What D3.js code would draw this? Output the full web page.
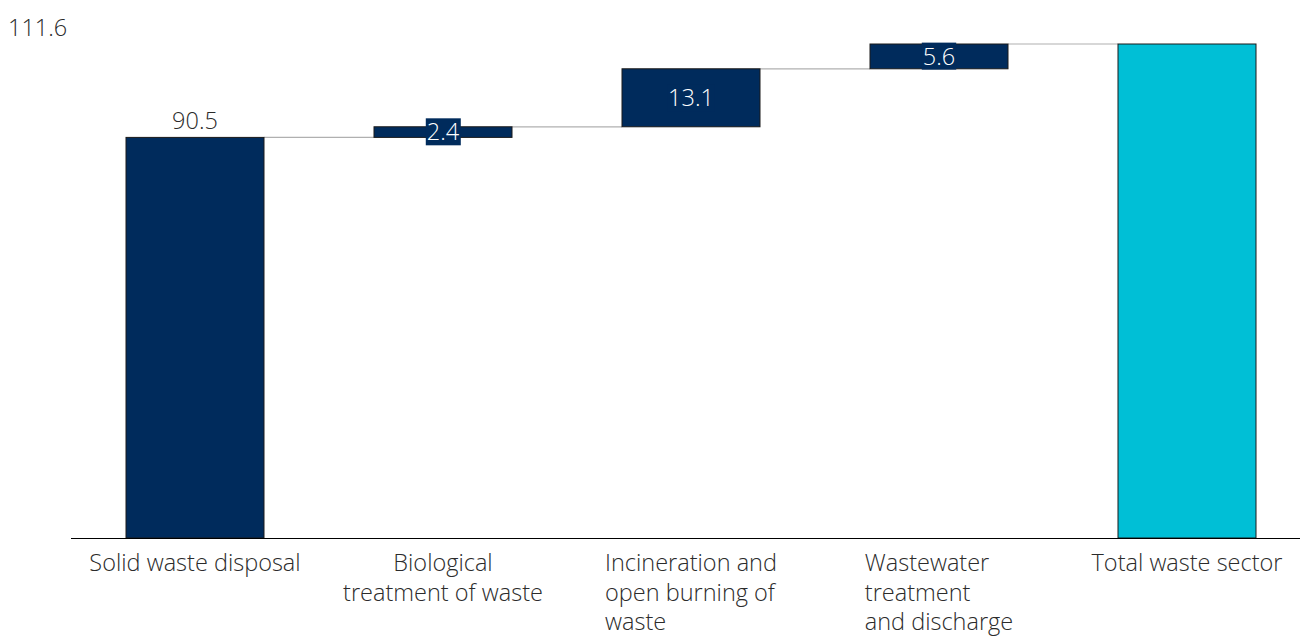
<!DOCTYPE html>
<html>
<head>
<meta charset="utf-8">
<script src="https://cdn.jsdelivr.net/npm/d3@7"></script>
<style>
  html, body { margin: 0; padding: 0; background: #fff; }
  svg text { font-family: "Open Sans", "Lato", sans-serif; font-weight: 300; fill: #2b2b2b; }
</style>
</head>
<body>
<svg id="chart" width="1300" height="641"></svg>
<script>
// Waste sector emissions, contribution by sub-sector
const categories = [
  "Solid waste disposal",
  "Biological treatment of waste",
  "Incineration and open burning of waste",
  "Wastewater treatment and discharge",
  "Total waste sector"
];
const categoryLines = [
  ["Solid waste disposal"],
  ["Biological", "treatment of waste"],
  ["Incineration and", "open burning of", "waste"],
  ["Wastewater", "treatment", "and discharge"],
  ["Total waste sector"]
];
const values = [90.5, 2.4, 13.1, 5.6, 111.6];
const isTotal = [false, false, false, false, true];
const valueLabels = ["90.5", "2.4", "13.1", "5.6", "111.6"];

const svg = d3.select("#chart");
const W = 1300;
const baseY = 538, topY = 44;
const fs = 23.5;

// running totals for the waterfall steps
let run = 0;
const steps = categories.map((c, i) => {
  let y0, y1;
  if (isTotal[i] || i === 0) { y0 = 0; y1 = values[i]; run = values[i]; }
  else { y0 = run; y1 = run + values[i]; run = y1; }
  return { cat: c, i, y0, y1, v: values[i], total: isTotal[i], label: valueLabels[i] };
});

const x = d3.scaleBand().domain(categories).range([71, 1311])
  .paddingInner(110 / 248).paddingOuter(55 / 248);
const y = d3.scaleLinear().domain([0, d3.max(steps, d => d.y1)]).range([baseY, topY]);

const navy = "#002B5C", cyan = "#00BFD6";

// connectors between consecutive bars
const conn = svg.append("g");
steps.slice(0, -1).forEach((d, i) => {
  const nx = steps[i + 1];
  conn.append("line")
    .attr("x1", x(d.cat) + x.bandwidth())
    .attr("x2", x(nx.cat))
    .attr("y1", y(d.y1)).attr("y2", y(d.y1))
    .attr("stroke", "#b0b0b0").attr("stroke-width", 1.2);
});

// bars
svg.append("g").selectAll("rect").data(steps).join("rect")
  .attr("x", d => x(d.cat))
  .attr("width", x.bandwidth())
  .attr("y", d => y(Math.max(d.y0, d.y1)))
  .attr("height", d => Math.abs(y(d.y0) - y(d.y1)))
  .attr("fill", d => d.total ? cyan : navy)
  .attr("stroke", "#1a1a1a").attr("stroke-width", 1);

// baseline
svg.append("line").attr("x1", 71).attr("x2", W).attr("y1", baseY + 0.5).attr("y2", baseY + 0.5)
  .attr("stroke", "#000").attr("stroke-width", 1.2);

// value labels
const vl = svg.append("g");
steps.forEach(d => {
  const cx = x(d.cat) + x.bandwidth() / 2;
  if (d.total) {
    vl.append("text").attr("x", 8).attr("y", 36).attr("font-size", fs).text(d.label);
  } else if (d.i === 0) {
    vl.append("text").attr("x", cx).attr("y", y(d.y1) - 8).attr("text-anchor", "middle")
      .attr("font-size", fs).text(d.label);
  } else {
    const cy = (y(d.y0) + y(d.y1)) / 2;
    const g = vl.append("g");
    const t = g.append("text").attr("x", cx).attr("y", cy).attr("dy", "0.35em")
      .attr("text-anchor", "middle").attr("font-size", fs).style("fill", "#fff").text(d.label);
    const bb = t.node().getBBox();
    g.insert("rect", "text").attr("x", bb.x - 1).attr("y", bb.y + 3).attr("width", bb.width + 2)
      .attr("height", bb.height - 5).attr("fill", navy);
  }
});

// category labels: one text per category, wrapped into tspans
const cl = svg.append("g");
categoryLines.forEach((lines, i) => {
  const cx = x(categories[i]) + x.bandwidth() / 2;
  const t = cl.append("text").attr("font-size", fs).attr("y", 571);
  const spans = lines.map((ln, k) => t.append("tspan")
    .attr("y", 571 + k * 29.5).text(ln));
  if (lines.length > 2) {
    // block centred under the bar, lines left-aligned
    const wMax = d3.max(spans, s => s.node().getComputedTextLength());
    spans.forEach(s => s.attr("x", cx - wMax / 2));
  } else {
    t.attr("text-anchor", "middle");
    spans.forEach(s => s.attr("x", cx));
  }
});
</script>
</body>
</html>
